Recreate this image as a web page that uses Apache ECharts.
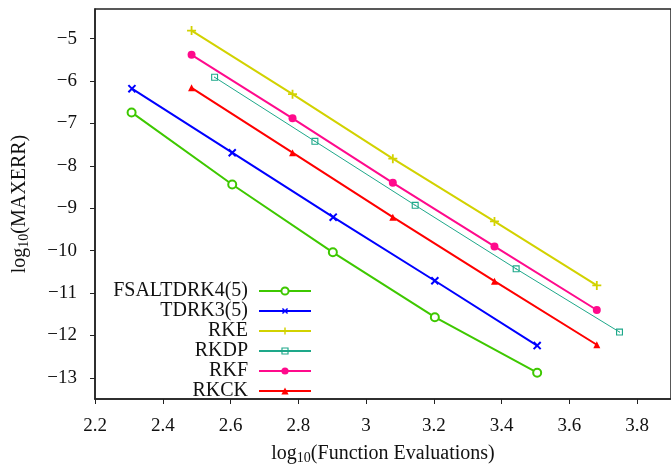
<!DOCTYPE html>
<html>
<head>
<meta charset="utf-8">
<script src="https://cdn.jsdelivr.net/npm/echarts@6/dist/echarts.min.js"></script>
<style>
  html, body { margin: 0; padding: 0; background: #fff; }
  #chart { width: 671px; height: 470px; }
</style>
</head>
<body>
<div id="chart"></div>
<script>
// log10 of function evaluations for each method
const xFSALTDRK = [2.308, 2.605, 2.902, 3.203, 3.505];
const xTDRK3 = [2.309, 2.605, 2.903, 3.203, 3.505];
const xRKE = [2.485, 2.783, 3.079, 3.379, 3.681];
const xRKDP = [2.553, 2.849, 3.145, 3.443, 3.748];
const xRKF = [2.485, 2.783, 3.079, 3.379, 3.681];
const xRKCK = [2.485, 2.783, 3.079, 3.379, 3.681];

// log10 of the maximum error
const yFSALTDRK = [-6.74, -8.44, -10.04, -11.57, -12.88];
const yTDRK3 = [-6.18, -7.69, -9.21, -10.71, -12.24];
const yRKE = [-4.81, -6.31, -7.83, -9.31, -10.82];
const yRKDP = [-5.91, -7.42, -8.93, -10.43, -11.92];
const yRKF = [-5.38, -6.88, -8.40, -9.90, -11.40];
const yRKCK = [-6.16, -7.69, -9.21, -10.72, -12.22];

const xTicks = [2.2, 2.4, 2.6, 2.8, 3, 3.2, 3.4, 3.6, 3.8];
const yTicks = [-13, -12, -11, -10, -9, -8, -7, -6, -5];

const serif = '"Liberation Serif", "DejaVu Serif", serif';

function pairs(xs, ys) {
  return xs.map((x, i) => [x, ys[i]]);
}

const plusPath = 'path://M4,0H6V10H4Z M0,4H10V6H0Z';
const squarePath = 'path://M0,0H10V10H0Z M1.6,1.6V8.4H8.4V1.6Z M4.2,4.2H5.8V5.8H4.2Z';

function makeSeries(name, xs, ys, color, symbol, size, width, extra) {
  return Object.assign({
    name: name,
    type: 'line',
    data: pairs(xs, ys),
    symbol: symbol,
    symbolSize: size,
    showAllSymbol: true,
    lineStyle: { color: color, width: width },
    itemStyle: { color: color },
    emphasis: { disabled: true },
    animation: false,
    z: 3
  }, extra || {});
}

const series = [
  makeSeries('FSALTDRK4(5)', xFSALTDRK, yFSALTDRK, '#3ec800', 'emptyCircle', 8, 2,
    { itemStyle: { color: '#3ec800', borderColor: '#3ec800', borderWidth: 2 } }),
  makeSeries('TDRK3(5)', xTDRK3, yTDRK3, '#0000ff', plusPath, 10, 2, { symbolRotate: 45 }),
  makeSeries('RKE', xRKE, yRKE, '#d2d200', plusPath, 9, 2),
  makeSeries('RKDP', xRKDP, yRKDP, '#1ea88a', squarePath, 7, 1),
  makeSeries('RKF', xRKF, yRKF, '#ff0a8c', 'circle', 8, 2),
  makeSeries('RKCK', xRKCK, yRKCK, '#ff0000', 'triangle', 7, 2)
];

const nameRich = {
  a: { fontFamily: serif, fontSize: 20, color: '#111' },
  s: { fontFamily: serif, fontSize: 14, color: '#111', padding: [9, 0, 0, 0] }
};

const chart = echarts.init(document.getElementById('chart'), null, { renderer: 'canvas' });

chart.setOption({
  backgroundColor: '#ffffff',
  animation: false,
  grid: {
    left: 95, top: 9, right: -4, bottom: 68,
    show: true, borderColor: '#222', borderWidth: 1.5, backgroundColor: 'transparent'
  },
  legend: {
    orient: 'vertical',
    align: 'right',
    right: 359,
    top: 281,
    padding: 0,
    itemWidth: 52,
    itemHeight: 9,
    itemGap: 0,
    textStyle: { fontFamily: serif, fontSize: 20, lineHeight: 19, color: '#111', padding: [0, 6, 0, 0] },
    data: series.map(s => s.name),
    selectedMode: false
  },
  xAxis: {
    type: 'value',
    min: 2.2,
    max: 3.9,
    name: '{a|log}{s|10}{a|(Function Evaluations)}',
    nameLocation: 'middle',
    nameGap: 43,
    nameTextStyle: { rich: nameRich },
    splitLine: { show: false },
    axisLine: { show: true, onZero: false, lineStyle: { color: '#222', width: 1.5 } },
    axisTick: { show: true, inside: false, length: 5, customValues: xTicks, lineStyle: { color: '#222' } },
    axisLabel: {
      customValues: xTicks,
      margin: 18,
      fontFamily: serif,
      fontSize: 19,
      color: '#111',
      formatter: v => String(Math.round(v * 10) / 10)
    }
  },
  yAxis: {
    type: 'value',
    min: -13.5,
    max: -4.3,
    name: '{a|log}{s|10}{a|(MAXERR)}',
    nameLocation: 'middle',
    nameRotate: 90,
    nameGap: 64,
    nameTextStyle: { rich: nameRich },
    splitLine: { show: false },
    axisLine: { show: true, onZero: false, lineStyle: { color: '#222', width: 1.5 } },
    axisTick: { show: true, inside: false, length: 5, customValues: yTicks, lineStyle: { color: '#222' } },
    axisLabel: {
      customValues: yTicks,
      margin: 18,
      fontFamily: serif,
      fontSize: 19,
      color: '#111',
      formatter: v => String(v).replace('-', '\u2212')
    }
  },
  series: series
});
</script>
</body>
</html>
